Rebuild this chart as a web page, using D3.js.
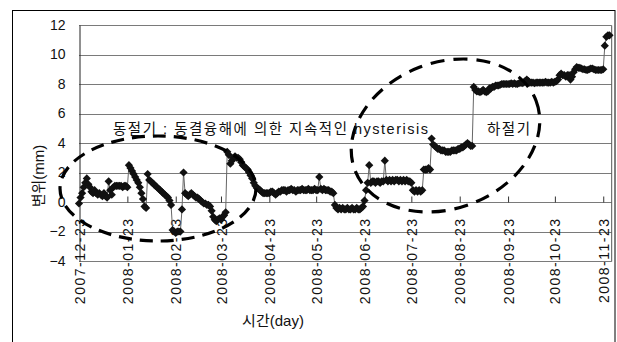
<!DOCTYPE html>
<html>
<head>
<meta charset="utf-8">
<script src="https://cdn.jsdelivr.net/npm/d3@7"></script>
<style>
  html, body { margin: 0; padding: 0; background: #fff; }
  svg { display: block; }
  text { font-family: "Liberation Sans", "Noto Sans CJK KR", sans-serif; fill: #111; }
</style>
</head>
<body>
<svg id="chart" width="617" height="342"></svg>
<script>
// Daily displacement readings (mm), one per day starting 2007-12-23
const startDay = "2007-12-23";
const displacement = [
  -0.1, 0.3, 0.6, 1.0, 1.3, 1.6, 1.2, 1.0, 0.7, 0.6,
  0.8, 0.6, 0.5, 0.6, 0.5, 0.4, 0.6, 0.4, 0.3, 1.4,
  0.8, 0.5, 1.0, 1.1, 1.1, 1.1, 1.1, 1.1, 1.0, 1.1,
  1.1, 1.0, 2.5, 2.3, 2.1, 1.9, 1.7, 1.5, 1.3, 1.0,
  0.6, 0.2, -0.3, -0.4, 1.9, 1.5, 1.4, 1.3, 1.2, 1.1,
  1.0, 0.9, 0.8, 0.7, 0.6, 0.5, 0.4, 0.3, 0.1, -0.2,
  -1.9, -2.0, -2.1, -2.0, -2.0, -2.0, -0.5, 2.0, 0.6, 0.5,
  0.4, 0.5, 0.6, 0.5, 0.4, 0.3, 0.3, 0.2, 0.1, 0.0,
  -0.1, -0.1, -0.2, -0.2, -0.3, -0.6, -1.0, -1.2, -1.3, -1.2,
  -1.1, -1.2, -1.0, -0.9, -0.7, 3.4, 3.2, 2.6, 2.8, 3.0,
  3.1, 3.0, 3.0, 2.9, 2.7, 2.5, 2.4, 2.3, 2.2, 2.0,
  1.8, 1.6, 1.3, 1.1, 0.95, 0.9, 0.8, 0.7, 0.6, 0.6,
  0.6, 0.6, 0.6, 0.7, 0.7, 0.6, 0.5, 0.6, 0.7, 0.7,
  0.8, 0.8, 0.8, 0.7, 0.8, 0.8, 0.9, 0.8, 0.8, 0.7,
  0.8, 0.8, 0.8, 0.9, 0.8, 0.8, 0.8, 0.9, 0.8, 0.8,
  0.8, 0.9, 0.8, 0.8, 1.7, 0.9, 0.8, 0.9, 0.8, 0.8,
  0.8, 0.7, 0.7, 0.6, -0.2, -0.4, -0.5, -0.4, -0.5, -0.4,
  -0.5, -0.5, -0.4, -0.5, -0.5, -0.4, -0.5, -0.5, -0.4, -0.5,
  -0.5, -0.4, -0.3, 0.1, 0.8, 1.3, 2.5, 1.3, 1.4, 1.4,
  1.3, 1.4, 1.4, 1.3, 1.4, 1.4, 2.8, 1.5, 1.4, 1.5,
  1.4, 1.5, 1.4, 1.5, 1.5, 1.4, 1.5, 1.4, 1.5, 1.4,
  1.5, 1.4, 1.4, 1.3, 0.8, 0.7, 0.8, 0.7, 0.8, 0.7,
  0.8, 2.2, 2.2, 2.2, 2.3, 2.2, 4.3, 3.9, 3.8, 3.7,
  3.6, 3.6, 3.5, 3.5, 3.5, 3.4, 3.4, 3.4, 3.4, 3.5,
  3.5, 3.5, 3.5, 3.6, 3.6, 3.7, 3.7, 3.8, 3.9, 4.0,
  3.9, 3.8, 3.8, 7.8, 7.6, 7.5, 7.5, 7.45, 7.5, 7.6,
  7.5, 7.45, 7.5, 7.7, 7.7, 7.8, 7.8, 7.9, 7.9, 7.9,
  7.95, 8.0, 8.0, 8.0, 8.0, 8.0, 8.0, 8.05, 8.0, 8.05,
  8.0, 8.0, 8.05, 8.1, 8.05, 8.1, 8.2, 8.3, 8.2, 8.1,
  8.1, 8.1, 8.05, 8.1, 8.1, 8.1, 8.1, 8.1, 8.1, 8.15,
  8.1, 8.1, 8.1, 8.15, 8.1, 8.15, 8.2, 8.3, 8.6, 8.7,
  8.6, 8.6, 8.5, 8.6, 8.6, 8.3, 8.5, 8.8, 9.0, 9.15,
  9.1, 9.1, 9.05, 9.0, 9.0, 8.95, 8.95, 9.0, 9.05, 9.05,
  9.0, 8.95, 8.95, 8.95, 8.95, 8.95, 9.0, 10.6, 11.2, 11.3,
  11.3
];

// Axis ticks
const xTickDates = ["2007-12-23", "2008-01-23", "2008-02-23", "2008-03-23",
  "2008-04-23", "2008-05-23", "2008-06-23", "2008-07-23", "2008-08-23",
  "2008-09-23", "2008-10-23", "2008-11-23"];
const yTicks = [-4, -2, 0, 2, 4, 6, 8, 10, 12];

// Titles and notes
const xTitle = "시간(day)";
const yTitle = "변위(mm)";
const winterNote = "동절기 : 동결융해에 의한 지속적인 hysterisis";
const summerNote = "하절기";

const parseDay = d3.timeParse("%Y-%m-%d");
const fmtDay = d3.timeFormat("%Y-%m-%d");
const t0 = parseDay(startDay);
const series = displacement.map((v, i) => ({ date: d3.timeDay.offset(t0, i), value: v }));

const svg = d3.select("#chart");
const plot = { left: 79, right: 611.7, top: 25, bottom: 261 };

const x = d3.scaleTime()
  .domain([t0, d3.timeHour.offset(parseDay("2008-11-28"), 10)])
  .range([plot.left, plot.right]);
const y = d3.scaleLinear().domain([-4, 12]).range([plot.bottom, plot.top]);

// outer frame
svg.append("rect")
  .attr("x", 12.5).attr("y", 10.5)
  .attr("width", 602.5).attr("height", 345)
  .attr("fill", "none").attr("stroke", "#000").attr("stroke-width", 1);

// horizontal gridlines
svg.append("g")
  .selectAll("line")
  .data(yTicks)
  .join("line")
  .attr("x1", plot.left).attr("x2", plot.right)
  .attr("y1", d => Math.round(y(d)) + 0.5).attr("y2", d => Math.round(y(d)) + 0.5)
  .attr("stroke", "#7a7a7a").attr("stroke-width", 1);

// right border of plot area
svg.append("line")
  .attr("x1", plot.right).attr("x2", plot.right)
  .attr("y1", Math.round(y(12)) + 0.5).attr("y2", Math.round(y(-4)) + 0.5)
  .attr("stroke", "#555");

// y axis
const yAxis = d3.axisLeft(y).tickValues(yTicks).tickSize(0).tickPadding(14);
const gy = svg.append("g").attr("transform", `translate(${plot.left + 0.5},0)`).call(yAxis);
gy.select(".domain").attr("stroke", "#222");
gy.selectAll("text").style("font-size", "14px").attr("fill", "#111");

// x axis along the zero line, ticks pointing up
const xAxis = d3.axisBottom(x)
  .tickValues(xTickDates.map(parseDay))
  .tickFormat(fmtDay)
  .tickSizeInner(-6).tickSizeOuter(0);
const gx = svg.append("g").attr("transform", `translate(0,${Math.round(y(0)) + 0.5})`).call(xAxis);
gx.select(".domain").remove();
gx.selectAll(".tick line").attr("stroke", "#333");
gx.selectAll(".tick text")
  .style("font-size", "14px")
  .style("letter-spacing", "1.5px")
  .attr("fill", "#111")
  .attr("transform", "rotate(-90)")
  .attr("text-anchor", "end")
  .attr("x", -15).attr("y", 0).attr("dy", "0.36em");

// data line + diamond markers
const line = d3.line().x(d => x(d.date)).y(d => y(d.value));
svg.append("path")
  .datum(series)
  .attr("d", line)
  .attr("fill", "none").attr("stroke", "#666").attr("stroke-width", 1);

const r = 4.1;
svg.append("g")
  .selectAll("path")
  .data(series)
  .join("path")
  .attr("transform", d => `translate(${x(d.date)},${y(d.value)})`)
  .attr("d", `M0,${-r}L${r},0L0,${r}L${-r},0Z`)
  .attr("fill", "#111");

// dashed highlight ellipses
svg.append("ellipse")
  .attr("cx", 158).attr("cy", 188.5).attr("rx", 98).attr("ry", 52.5)
  .attr("fill", "none").attr("stroke", "#000").attr("stroke-width", 3.2)
  .attr("stroke-dasharray", "13 8");
svg.append("ellipse")
  .attr("cx", 445.5).attr("cy", 135.5).attr("rx", 97).attr("ry", 73)
  .attr("transform", "rotate(-21,445.5,135.5)")
  .attr("fill", "none").attr("stroke", "#000").attr("stroke-width", 3.2)
  .attr("stroke-dasharray", "14 9");

// notes
svg.append("text").attr("x", 113).attr("y", 134)
  .attr("textLength", 315).attr("lengthAdjust", "spacing")
  .style("font-size", "14.5px").attr("fill", "#222").text(winterNote);
svg.append("text").attr("x", 487).attr("y", 134)
  .attr("textLength", 43).attr("lengthAdjust", "spacing")
  .style("font-size", "14.5px").attr("fill", "#222").text(summerNote);

// axis titles
svg.append("text")
  .attr("transform", "translate(44,176) rotate(-90)")
  .attr("text-anchor", "middle")
  .style("font-size", "15px").attr("fill", "#222").text(yTitle);
svg.append("text")
  .attr("x", 273).attr("y", 326)
  .attr("text-anchor", "middle")
  .style("font-size", "15px").attr("fill", "#222").text(xTitle);
</script>
</body>
</html>
